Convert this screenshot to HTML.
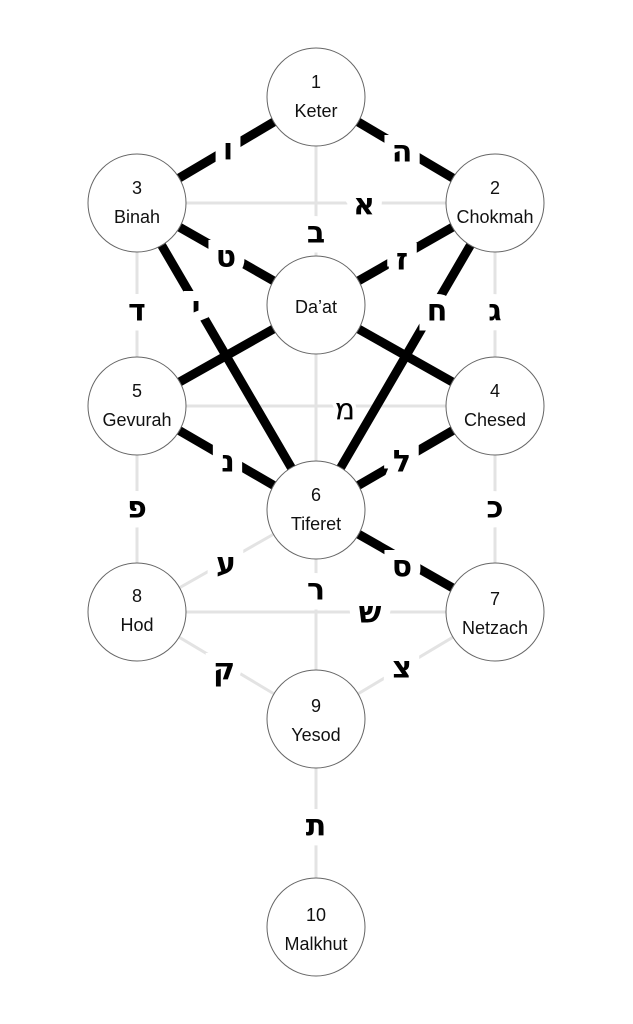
<!DOCTYPE html>
<html><head><meta charset="utf-8"><style>
html,body{margin:0;padding:0;background:#fff;}
svg{display:block;}
.g{stroke:#e3e3e3;stroke-width:3;}
.b{stroke:#000;stroke-width:9;}
.l{font-family:"DejaVu Sans","Liberation Sans",sans-serif;font-size:30px;text-anchor:middle;dominant-baseline:central;fill:#000;stroke:#fff;stroke-width:20px;paint-order:stroke;font-weight:bold;}
.ln{font-weight:normal;stroke-width:8px;}
.n{font-family:"Liberation Sans",sans-serif;font-size:18px;text-anchor:middle;fill:#111;}
circle{fill:#fff;stroke:#666;stroke-width:1;}
</style></head><body>
<svg width="633" height="1024" viewBox="0 0 633 1024">
<line class="g" x1="316" y1="97" x2="316" y2="927"/>
<line class="g" x1="137" y1="203" x2="495" y2="203"/>
<line class="g" x1="137" y1="406" x2="495" y2="406"/>
<line class="g" x1="137" y1="612" x2="495" y2="612"/>
<line class="g" x1="137" y1="203" x2="137" y2="612"/>
<line class="g" x1="495" y1="203" x2="495" y2="612"/>
<line class="g" x1="316" y1="510" x2="137" y2="612"/>
<line class="g" x1="316" y1="719" x2="137" y2="612"/>
<line class="g" x1="316" y1="719" x2="495" y2="612"/>
<text class="l ln" x="345" y="410">מ</text>
<line class="b" x1="316" y1="97" x2="137" y2="203"/>
<line class="b" x1="316" y1="97" x2="495" y2="203"/>
<line class="b" x1="137" y1="203" x2="316" y2="305"/>
<line class="b" x1="495" y1="203" x2="316" y2="305"/>
<line class="b" x1="137" y1="203" x2="316" y2="510"/>
<line class="b" x1="495" y1="203" x2="316" y2="510"/>
<line class="b" x1="316" y1="305" x2="137" y2="406"/>
<line class="b" x1="316" y1="305" x2="495" y2="406"/>
<line class="b" x1="137" y1="406" x2="316" y2="510"/>
<line class="b" x1="495" y1="406" x2="316" y2="510"/>
<line class="b" x1="316" y1="510" x2="495" y2="612"/>
<text class="l" x="228" y="150">ו</text>
<text class="l" x="402" y="152">ה</text>
<text class="l" x="364" y="205">א</text>
<text class="l" x="316" y="233">ב</text>
<text class="l" x="226" y="257">ט</text>
<text class="l" x="402" y="260">ז</text>
<text class="l" x="137" y="311">ד</text>
<text class="l" x="196" y="308">י</text>
<text class="l" x="437" y="311">ח</text>
<text class="l" x="495" y="311">ג</text>
<text class="l" x="228" y="462">נ</text>
<text class="l" x="402" y="462">ל</text>
<text class="l" x="137" y="508">פ</text>
<text class="l" x="495" y="508">כ</text>
<text class="l" x="226" y="564">ע</text>
<text class="l" x="402" y="567">ס</text>
<text class="l" x="316" y="590">ר</text>
<text class="l" x="370" y="613">ש</text>
<text class="l" x="224" y="670">ק</text>
<text class="l" x="402" y="668">צ</text>
<text class="l" x="316" y="826">ת</text>
<circle cx="316" cy="97" r="49"/><text class="n" x="316" y="88">1</text><text class="n" x="316" y="117">Keter</text>
<circle cx="137" cy="203" r="49"/><text class="n" x="137" y="194">3</text><text class="n" x="137" y="223">Binah</text>
<circle cx="495" cy="203" r="49"/><text class="n" x="495" y="194">2</text><text class="n" x="495" y="223">Chokmah</text>
<circle cx="316" cy="305" r="49"/><text class="n" x="316" y="313">Da’at</text>
<circle cx="137" cy="406" r="49"/><text class="n" x="137" y="397">5</text><text class="n" x="137" y="426">Gevurah</text>
<circle cx="495" cy="406" r="49"/><text class="n" x="495" y="397">4</text><text class="n" x="495" y="426">Chesed</text>
<circle cx="316" cy="510" r="49"/><text class="n" x="316" y="501">6</text><text class="n" x="316" y="530">Tiferet</text>
<circle cx="137" cy="612" r="49"/><text class="n" x="137" y="602">8</text><text class="n" x="137" y="631">Hod</text>
<circle cx="495" cy="612" r="49"/><text class="n" x="495" y="605">7</text><text class="n" x="495" y="634">Netzach</text>
<circle cx="316" cy="719" r="49"/><text class="n" x="316" y="712">9</text><text class="n" x="316" y="741">Yesod</text>
<circle cx="316" cy="927" r="49"/><text class="n" x="316" y="921">10</text><text class="n" x="316" y="950">Malkhut</text>
</svg>
</body></html>
